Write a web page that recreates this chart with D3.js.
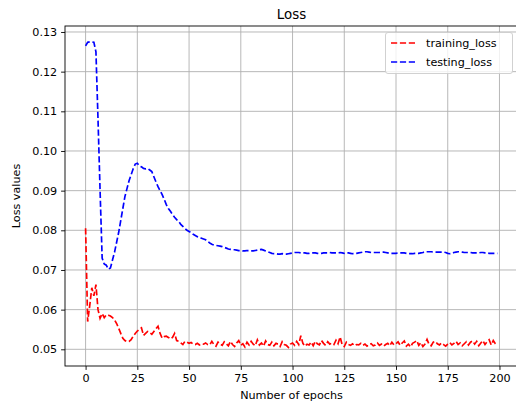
<!DOCTYPE html>
<html>
<head>
<meta charset="utf-8">
<script src="https://cdn.jsdelivr.net/npm/d3@7"></script>
<style>
  body { margin: 0; background: white; }
  svg { font-family: "DejaVu Sans", sans-serif; display: block; }
</style>
</head>
<body>
<div id="container"></div>
<script>
"use strict";

// SECTION: data
const epochs = d3.range(0, 200);

const training_loss = [
  0.0805, 0.0570, 0.0610, 0.0655, 0.0635, 0.0663, 0.0600, 0.0578, 0.0590, 0.0580,
  0.0587, 0.0586, 0.0584, 0.0580, 0.0574, 0.0565, 0.0553, 0.0540, 0.0528, 0.0522,
  0.0519, 0.0520, 0.0524, 0.0533, 0.0540, 0.0546, 0.0550, 0.0554, 0.0535, 0.0540,
  0.0545, 0.0542, 0.0538, 0.0545, 0.0552, 0.0558, 0.0540, 0.0528, 0.0532, 0.0533,
  0.0530, 0.0526, 0.0530, 0.0540, 0.0522, 0.0520, 0.0516, 0.0512, 0.0520, 0.0518,
  0.0515, 0.0517, 0.0513, 0.0512, 0.0515, 0.0511, 0.0514, 0.0513, 0.0516, 0.0512,
  0.0511, 0.0520, 0.0512, 0.0508, 0.0518, 0.0513, 0.0510, 0.0519, 0.0514, 0.0509,
  0.0520, 0.0512, 0.0507, 0.0516, 0.0522, 0.0510, 0.0514, 0.0506, 0.0518, 0.0511,
  0.0520, 0.0513, 0.0509, 0.0524, 0.0511, 0.0516, 0.0508, 0.0521, 0.0512, 0.0510,
  0.0518, 0.0509, 0.0515, 0.0513, 0.0507, 0.0519, 0.0512, 0.0510, 0.0505, 0.0513,
  0.0516, 0.0510, 0.0520, 0.0512, 0.0534, 0.0515, 0.0508, 0.0513, 0.0511, 0.0518,
  0.0509, 0.0520, 0.0514, 0.0511, 0.0522, 0.0515, 0.0510, 0.0519, 0.0513, 0.0516,
  0.0512, 0.0523, 0.0514, 0.0531, 0.0511, 0.0507, 0.0518, 0.0512, 0.0510, 0.0514,
  0.0509, 0.0512, 0.0511, 0.0515, 0.0510, 0.0513, 0.0508, 0.0512, 0.0514, 0.0509,
  0.0511, 0.0516, 0.0510, 0.0513, 0.0508, 0.0512, 0.0515, 0.0509, 0.0518, 0.0511,
  0.0514, 0.0519, 0.0510, 0.0516, 0.0521, 0.0508, 0.0513, 0.0506, 0.0515, 0.0518,
  0.0522, 0.0510, 0.0517, 0.0507, 0.0513, 0.0525, 0.0512, 0.0509, 0.0518, 0.0520,
  0.0514, 0.0511, 0.0516, 0.0512, 0.0508, 0.0513, 0.0517, 0.0511, 0.0515, 0.0520,
  0.0512, 0.0516, 0.0509, 0.0514, 0.0519, 0.0511, 0.0518, 0.0521, 0.0513, 0.0520,
  0.0509, 0.0516, 0.0522, 0.0512, 0.0519, 0.0524, 0.0511, 0.0522, 0.0514, 0.0510
];

const testing_loss = [
  0.1265, 0.1274, 0.1275, 0.1275, 0.1274, 0.1250, 0.1080, 0.0900, 0.0730, 0.0715,
  0.0712, 0.0702, 0.0705, 0.0725, 0.0745, 0.0770, 0.0795, 0.0825, 0.0855, 0.0885,
  0.0905, 0.0925, 0.0940, 0.0955, 0.0967, 0.0969, 0.0962, 0.0960, 0.0956, 0.0955,
  0.0956, 0.0952, 0.0948, 0.0935, 0.0922, 0.0910, 0.0900, 0.0890, 0.0878, 0.0865,
  0.0855, 0.0848, 0.0840, 0.0833, 0.0827, 0.0822, 0.0815, 0.0810, 0.0805, 0.0800,
  0.0797, 0.0794, 0.0790, 0.0787, 0.0784, 0.0782, 0.0780, 0.0778, 0.0776, 0.0772,
  0.0768, 0.0765, 0.0763, 0.0762, 0.0761, 0.0760, 0.0759, 0.0757, 0.0755, 0.0753,
  0.0752, 0.0751, 0.0751, 0.0750, 0.0749, 0.0749, 0.0748, 0.0748, 0.0749, 0.0749,
  0.0748, 0.0748, 0.0749, 0.0750, 0.0751, 0.0752, 0.0750, 0.0748, 0.0746, 0.0744,
  0.0742, 0.0741, 0.0741, 0.0740, 0.0740, 0.0741, 0.0740, 0.0740, 0.0741, 0.0742,
  0.0743, 0.0744, 0.0744, 0.0744, 0.0743, 0.0743, 0.0743, 0.0742, 0.0742, 0.0743,
  0.0743, 0.0743, 0.0742, 0.0741, 0.0742, 0.0743, 0.0743, 0.0743, 0.0744, 0.0743,
  0.0743, 0.0743, 0.0743, 0.0744, 0.0743, 0.0742, 0.0743, 0.0743, 0.0742, 0.0741,
  0.0741, 0.0742, 0.0743, 0.0744, 0.0745, 0.0746, 0.0746, 0.0745, 0.0744, 0.0744,
  0.0744, 0.0744, 0.0744, 0.0745, 0.0745, 0.0744, 0.0743, 0.0742, 0.0742, 0.0742,
  0.0742, 0.0743, 0.0743, 0.0743, 0.0743, 0.0742, 0.0741, 0.0741, 0.0741, 0.0742,
  0.0742, 0.0742, 0.0743, 0.0744, 0.0746, 0.0746, 0.0746, 0.0746, 0.0745, 0.0745,
  0.0745, 0.0745, 0.0745, 0.0745, 0.0744, 0.0742, 0.0741, 0.0742, 0.0744, 0.0745,
  0.0746, 0.0746, 0.0745, 0.0744, 0.0744, 0.0744, 0.0744, 0.0743, 0.0743, 0.0743,
  0.0743, 0.0744, 0.0744, 0.0743, 0.0743, 0.0742, 0.0742, 0.0742, 0.0742, 0.0742
];

const xTicks = [0, 25, 50, 75, 100, 125, 150, 175, 200];
const yTicks = [0.05, 0.06, 0.07, 0.08, 0.09, 0.10, 0.11, 0.12, 0.13];

const series = [
  {name: "training_loss", color: "#ff0000", values: training_loss},
  {name: "testing_loss", color: "#0000ff", values: testing_loss}
];

// SECTION: layout
const width = 516, height = 403;
const mLeft = 65, mRight = 518, mTop = 26, mBottom = 366;
const fontSize = 11.2;

let svg = d3.select("#container")
    .append("svg")
    .attr("width", width)
    .attr("height", height);

// scales (matplotlib style 5% margins)
var x = d3.scaleLinear()
    .domain([-9.95, 208.95])
    .range([mLeft, mRight]);

var y = d3.scaleLinear()
    .domain([0.04579, 0.13151])
    .range([mBottom, mTop]);

// grid lines
svg.append("g")
    .selectAll("line")
    .data(xTicks)
    .enter()
    .append("line")
      .attr("x1", d => x(d)).attr("x2", d => x(d))
      .attr("y1", mTop).attr("y2", mBottom)
      .attr("stroke", "#b0b0b0")
      .attr("stroke-width", 0.9);

svg.append("g")
    .selectAll("line")
    .data(yTicks)
    .enter()
    .append("line")
      .attr("x1", mLeft).attr("x2", mRight)
      .attr("y1", d => y(d)).attr("y2", d => y(d))
      .attr("stroke", "#b0b0b0")
      .attr("stroke-width", 0.9);

// the two loss curves
svg.append("clipPath")
    .attr("id", "plotclip")
  .append("rect")
    .attr("x", mLeft).attr("y", mTop)
    .attr("width", mRight - mLeft).attr("height", mBottom - mTop);

const line = d3.line()
    .x((d, i) => x(epochs[i]))
    .y(d => y(d));

svg.append("g")
    .attr("clip-path", "url(#plotclip)")
    .selectAll("path")
    .data(series)
    .enter()
    .append("path")
      .attr("d", d => line(d.values))
      .attr("fill", "none")
      .attr("stroke", d => d.color)
      .attr("stroke-width", 1.68)
      .attr("stroke-dasharray", "6.2,2.7");

// axes
let xAxis = svg.append("g")
    .attr("transform", "translate(0," + mBottom + ")")
    .call(d3.axisBottom(x).tickValues(xTicks).tickSize(3.9).tickPadding(3.9).tickFormat(d3.format("d")));

let yAxis = svg.append("g")
    .attr("transform", "translate(" + mLeft + ",0)")
    .call(d3.axisLeft(y).tickValues(yTicks).tickSize(3.9).tickPadding(3.9).tickFormat(d3.format(".2f")));

[xAxis, yAxis].forEach(a => {
  a.select(".domain").remove();
  a.selectAll("line").attr("stroke", "black").attr("stroke-width", 0.9);
  a.selectAll("text")
    .style("font-family", "DejaVu Sans")
    .style("font-size", fontSize + "px")
    .attr("fill", "#000");
});

// frame
svg.append("rect")
    .attr("x", mLeft).attr("y", mTop)
    .attr("width", mRight - mLeft).attr("height", mBottom - mTop)
    .attr("fill", "none")
    .attr("stroke", "black")
    .attr("stroke-width", 0.9);

// title and axis labels
svg.append("text")
    .attr("x", (mLeft + mRight) / 2)
    .attr("y", 19)
    .attr("text-anchor", "middle")
    .style("font-size", "13.4px")
    .text("Loss");

svg.append("text")
    .attr("x", (mLeft + mRight) / 2)
    .attr("y", 399)
    .attr("text-anchor", "middle")
    .style("font-size", fontSize + "px")
    .text("Number of epochs");

svg.append("text")
    .attr("transform", "translate(20," + ((mTop + mBottom) / 2) + ") rotate(-90)")
    .attr("text-anchor", "middle")
    .style("font-size", fontSize + "px")
    .text("Loss values");

// SECTION: legend (upper right)
let legend = svg.append("g");

legend.append("rect")
    .attr("x", 385.5).attr("y", 32.5)
    .attr("width", 127).attr("height", 41)
    .attr("rx", 2.5)
    .attr("fill", "white")
    .attr("fill-opacity", 0.8)
    .attr("stroke", "#cccccc")
    .attr("stroke-width", 0.9);

legend.selectAll(".entry")
    .data(series)
    .enter()
    .append("g")
      .attr("class", "entry")
      .attr("transform", (d, i) => "translate(0," + (43 + i * 19) + ")")
      .each(function(d) {
        d3.select(this).append("line")
          .attr("x1", 391).attr("x2", 417)
          .attr("y1", 0).attr("y2", 0)
          .attr("stroke", d.color)
          .attr("stroke-width", 1.68)
          .attr("stroke-dasharray", "6.2,2.7");
        d3.select(this).append("text")
          .attr("x", 426)
          .attr("y", 4)
          .style("font-size", fontSize + "px")
          .text(d.name);
      });
</script>
</body>
</html>
